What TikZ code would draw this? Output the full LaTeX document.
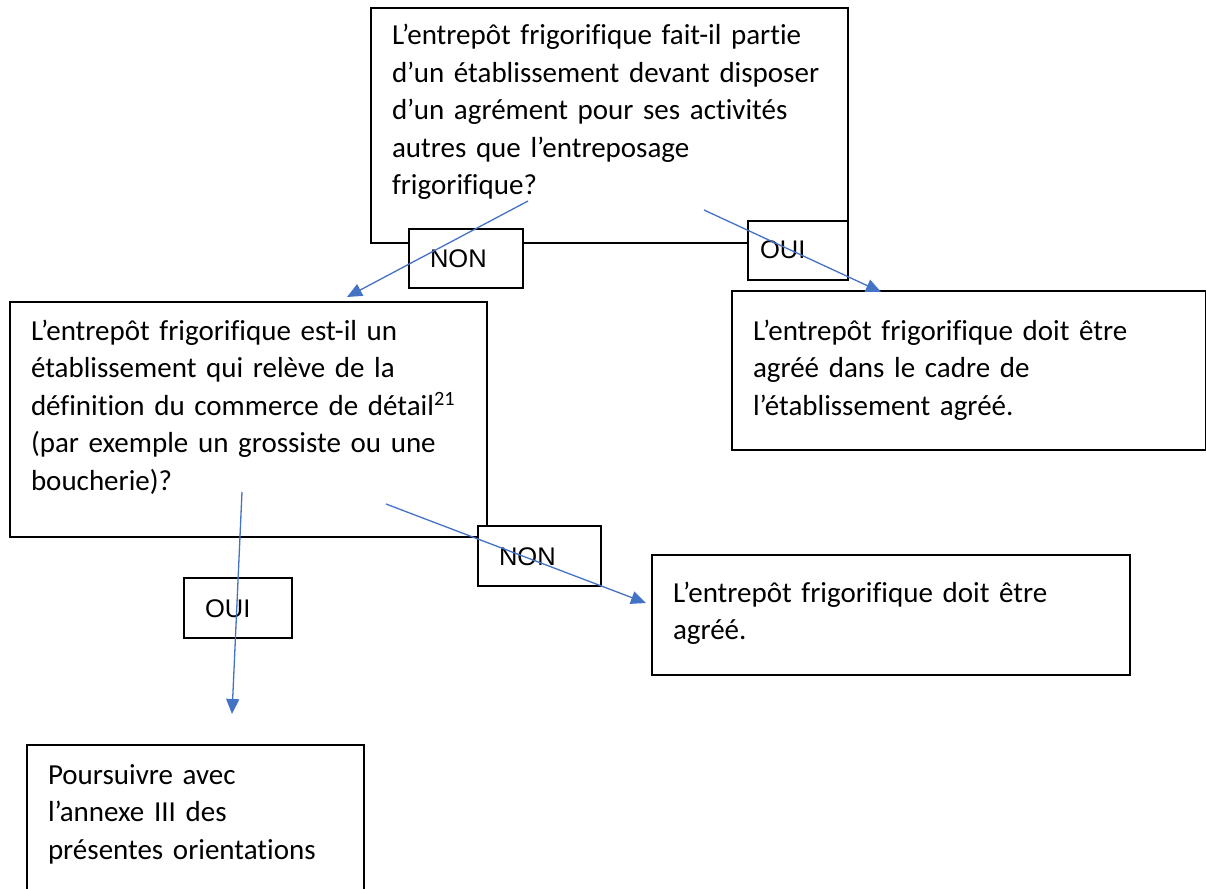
\documentclass[tikz,border=0pt]{standalone}
\usepackage{fontspec}
\setmainfont{Carlito}[Ligatures={NoCommon}]
\newfontfamily\labelfont{Liberation Sans}
\usetikzlibrary{arrows.meta}
\definecolor{arrowblue}{HTML}{4472C4}
\begin{document}
\begin{tikzpicture}[x=1pt,y=-1pt,
  box/.style={draw=black, line width=2.2pt, fill=white, anchor=north west, inner sep=0pt, outer sep=0pt},
  lbl/.style={draw=black, line width=2.2pt, fill=white, anchor=north west, inner sep=0pt, outer sep=0pt},
  txt/.style={anchor=base west, inner sep=0pt, outer sep=0pt, align=left, text width=520pt, font=\fontsize{29}{37.5}\selectfont},
  lbltxt/.style={anchor=base west, inner sep=0pt, outer sep=0pt, font=\labelfont\fontsize{25.5}{30}\selectfont},
  arr/.style={draw=arrowblue, line width=1.3pt, -{Triangle[length=15pt,width=13pt]}}]
\useasboundingbox (0,0) rectangle (1206,888);
\fill[white] (0,0) rectangle (1206,888);

% main boxes
\node[box, minimum width=477pt, minimum height=235pt] (q1) at (371,8) {};
\node[box, minimum width=477pt, minimum height=235pt] (q2) at (10,302) {};
\node[box, minimum width=474pt, minimum height=159pt] (r1) at (732,291) {};
\node[box, minimum width=478pt, minimum height=120pt] (r2) at (652,555) {};
\node[box, minimum width=337pt, minimum height=160pt] (r3) at (27,745) {};

% label boxes
\node[lbl, minimum width=114pt, minimum height=59pt] (non1) at (409,229) {};
\node[lbl, minimum width=100pt, minimum height=59pt] (oui1) at (748,221) {};
\node[lbl, minimum width=123pt, minimum height=60pt] (non2) at (478,526) {};
\node[lbl, minimum width=108pt, minimum height=60pt] (oui2) at (184,578) {};

% texts
\node[txt] (tq1) at (392,45) {L’entrepôt frigorifique fait-il partie\\d’un établissement devant disposer\\d’un agrément pour ses activités\\autres que l’entreposage\\frigorifique?};
\node[txt] (tq2) at (31,340) {L’entrepôt frigorifique est-il un\\établissement qui relève de la\\définition du commerce de détail\textsuperscript{21}\\(par exemple un grossiste ou une\\boucherie)?};
\node[txt] (tr1) at (753,340) {L’entrepôt frigorifique doit être\\agréé dans le cadre de\\l’établissement agréé.};
\node[txt] (tr2) at (673,602) {L’entrepôt frigorifique doit être\\agréé.};
\node[txt] (tr3) at (48,784) {Poursuivre avec\\l’annexe III des\\présentes orientations};

\node[lbltxt] (tnon1) at (430,267) {NON};
\node[lbltxt] (toui1) at (760,258) {OUI};
\node[lbltxt] (tnon2) at (499,565) {NON};
\node[lbltxt] (toui2) at (205,617) {OUI};

% arrows
\coordinate (a1s) at (528,201);
\coordinate (a1e) at (347,297);
\coordinate (a2s) at (704,210);
\coordinate (a2e) at (881,292);
\coordinate (a3s) at (242,492);
\coordinate (a3e) at (232,714);
\coordinate (a4s) at (386,504);
\coordinate (a4e) at (646,603);
\draw[arr] (a1s) -- (a1e);
\draw[arr] (a2s) -- (a2e);
\draw[arr] (a3s) -- (a3e);
\draw[arr] (a4s) -- (a4e);
\end{tikzpicture}
\end{document}
